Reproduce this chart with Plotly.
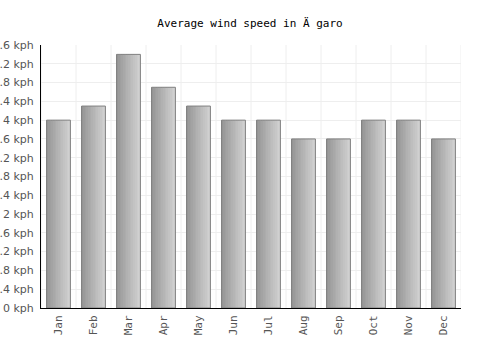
import plotly.graph_objects as go

months = ["Jan", "Feb", "Mar", "Apr", "May", "Jun", "Jul", "Aug", "Sep", "Oct", "Nov", "Dec"]
wind_kph = [4.0, 4.3, 5.4, 4.7, 4.3, 4.0, 4.0, 3.6, 3.6, 4.0, 4.0, 3.6]
tick_vals = [0, 0.4, 0.8, 1.2, 1.6, 2, 2.4, 2.8, 3.2, 3.6, 4, 4.4, 4.8, 5.2, 5.6]
tick_text = ["0 kph", "0.4 kph", "0.8 kph", "1.2 kph", "1.6 kph", "2 kph", "2.4 kph", "2.8 kph",
             "3.2 kph", "3.6 kph", "4 kph", "4.4 kph", "4.8 kph", "5.2 kph", "5.6 kph"]

fig = go.Figure()
bar_w = 0.68
n_strips = 14
c0 = (150, 150, 150)
c1 = (208, 208, 208)
for i in range(n_strips):
    t = i / (n_strips - 1)
    col = "rgb(%d,%d,%d)" % tuple(round(a + (b - a) * t) for a, b in zip(c0, c1))
    fig.add_trace(go.Bar(x=months, y=wind_kph, width=bar_w / n_strips * 1.05,
                         offset=-bar_w / 2 + i * bar_w / n_strips,
                         marker=dict(color=col, line=dict(width=0)),
                         hoverinfo="skip", showlegend=False))
fig.add_trace(go.Bar(x=months, y=wind_kph, width=bar_w, offset=-bar_w / 2,
                     marker=dict(color="rgba(0,0,0,0)", line=dict(color="#808080", width=1)),
                     showlegend=False))

fig.update_layout(
    width=500, height=350,
    margin=dict(l=41, r=39, t=45, b=42),
    paper_bgcolor="white", plot_bgcolor="white",
    barmode="overlay",
    title=dict(text="Average wind speed in Ä garo", x=0.5, xanchor="center", y=0.935, yanchor="middle",
               font=dict(family="DejaVu Sans Mono", size=11, color="#000")),
    font=dict(family="DejaVu Sans", size=11, color="#555"),
)
fig.update_xaxes(type="category", tickangle=-90, showgrid=False, showline=True, linecolor="#000",
                 linewidth=1, ticks="", automargin=False, ticklabelstandoff=2,
                 tickfont=dict(family="DejaVu Sans Mono", size=11, color="#555"),
                 range=[-0.5, 11.5])
for k in range(13):
    fig.add_shape(type="line", xref="x", yref="paper", x0=k - 0.5, x1=k - 0.5, y0=0, y1=1,
                  line=dict(color="#eeeeee", width=1), layer="below")
fig.update_yaxes(range=[0, 5.6], tickvals=tick_vals, ticktext=tick_text, showgrid=True,
                 gridcolor="#eeeeee", showline=True, linecolor="#000", linewidth=1, ticks="",
                 zeroline=False, automargin=False, ticklabelstandoff=4,
                 tickfont=dict(family="DejaVu Sans", size=11, color="#555"))
fig.write_html("out.html")
